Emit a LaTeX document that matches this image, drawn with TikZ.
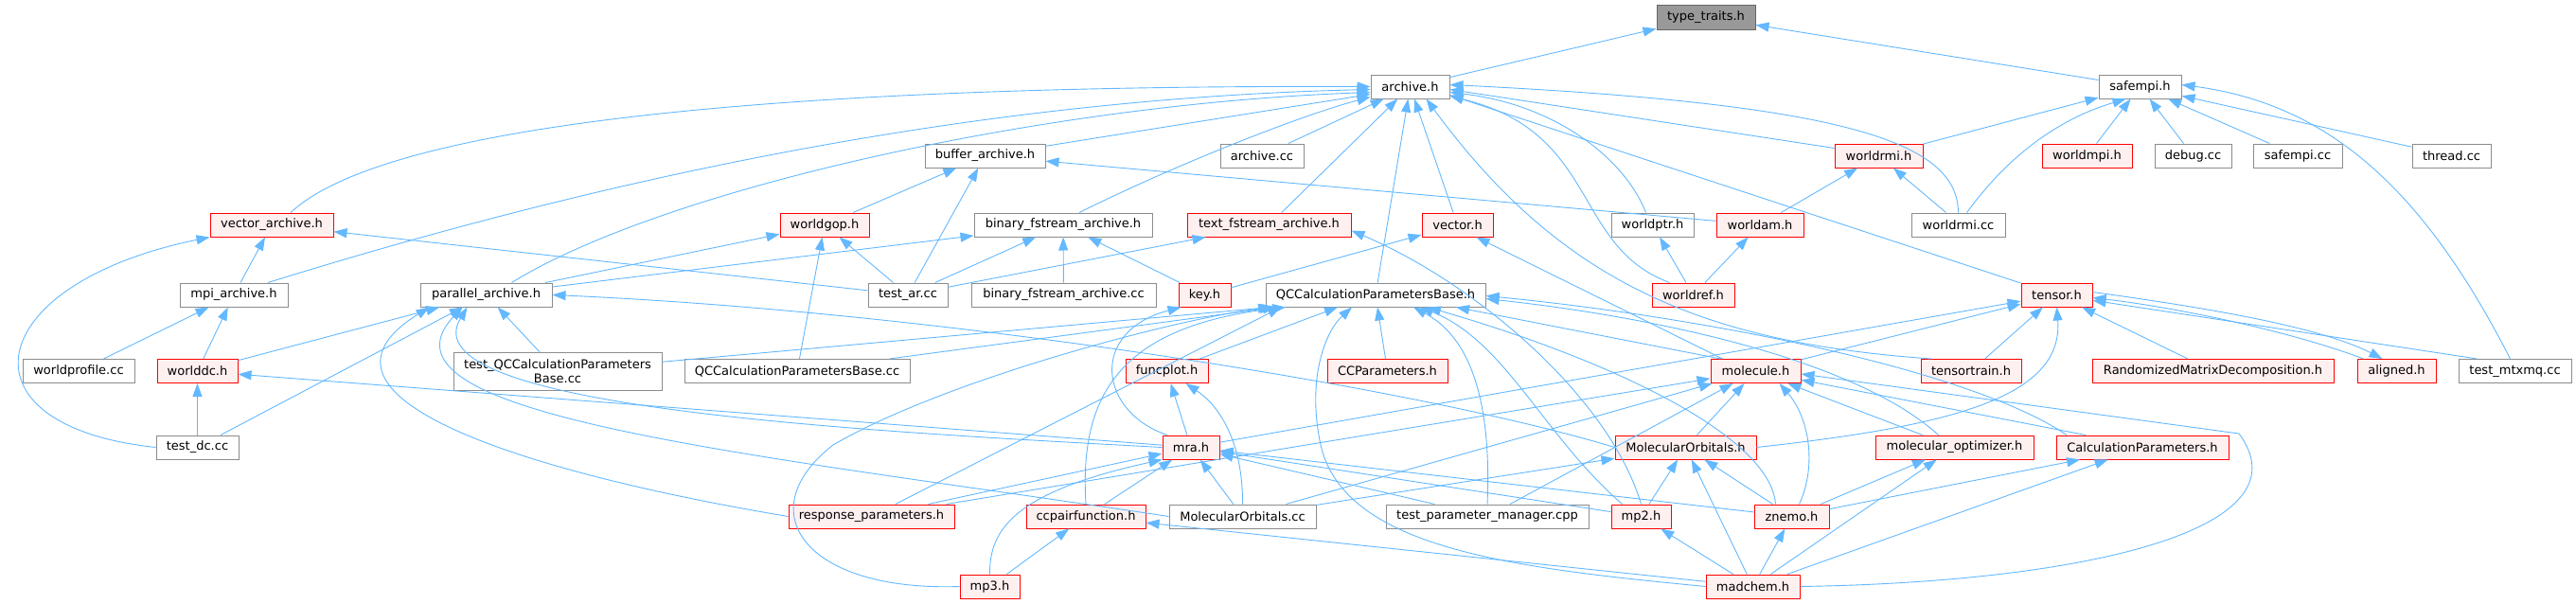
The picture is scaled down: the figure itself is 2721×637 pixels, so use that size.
\documentclass[tikz,border=0pt]{standalone}
\usepackage{fontspec}
\setmainfont{DejaVu Sans}
\usetikzlibrary{arrows.meta}
\definecolor{edgeblue}{HTML}{63B8FF}
\definecolor{boxgray}{HTML}{8C8C8C}
\definecolor{redfill}{HTML}{FFF0F0}
\definecolor{ttfill}{HTML}{999999}
\definecolor{ttborder}{HTML}{666666}
\begin{document}
\begin{tikzpicture}[x=1pt,y=-1pt,
  box/.style={draw=boxgray, fill=white, line width=1pt, minimum height=25pt, inner xsep=1pt, inner ysep=0pt, font=\fontsize{13}{15}\selectfont, text=black},
  redbox/.style={box, draw=red, fill=redfill},
  graybox/.style={box, draw=ttborder, fill=ttfill},
  edge/.style={draw=edgeblue, line width=0.9pt, -{Triangle[length=14pt,width=10pt]}}]
\useasboundingbox (0,0) rectangle (2721,637);
% row 0
\node[graybox, minimum width=104pt, minimum height=26pt] (tt) at (1802,18) {type\_traits.h};
% row 1
\node[box, minimum width=83pt] (archive) at (1489.5,91.5) {archive.h};
\node[box, minimum width=87pt] (safempi) at (2260.5,91.5) {safempi.h};
% row 2
\node[box, minimum width=127pt] (buffer) at (1040.5,164.5) {buffer\_archive.h};
\node[box, minimum width=88pt] (archcc) at (1333,164.5) {archive.cc};
\node[redbox, minimum width=93pt] (worldrmih) at (1984.5,164.5) {worldrmi.h};
\node[redbox, minimum width=95pt] (worldmpi) at (2204.5,164.5) {worldmpi.h};
\node[box, minimum width=81pt] (debug) at (2316.5,164.5) {debug.cc};
\node[box, minimum width=94pt] (safempicc) at (2427,164.5) {safempi.cc};
\node[box, minimum width=83pt] (thread) at (2589.5,164.5) {thread.cc};
% row 3
\node[redbox, minimum width=130pt] (vecar) at (287,237.5) {vector\_archive.h};
\node[redbox, minimum width=94pt] (worldgop) at (871,237.5) {worldgop.h};
\node[box, minimum width=188pt] (binfsh) at (1123,237.5) {binary\_fstream\_archive.h};
\node[redbox, minimum width=173pt] (textfs) at (1340.5,237.5) {text\_fstream\_archive.h};
\node[redbox, minimum width=75pt] (vectorh) at (1539.5,237.5) {vector.h};
\node[box, minimum width=87pt] (worldptr) at (1745.5,237.5) {worldptr.h};
\node[redbox, minimum width=92pt] (worldam) at (1859,237.5) {worldam.h};
\node[box, minimum width=99pt] (worldrmicc) at (2068.5,237.5) {worldrmi.cc};
% row 4
\node[box, minimum width=114pt] (mpiar) at (247,311.5) {mpi\_archive.h};
\node[box, minimum width=139pt] (parar) at (513.5,311.5) {parallel\_archive.h};
\node[box, minimum width=84pt] (testar) at (959,311.5) {test\_ar.cc};
\node[box, minimum width=195pt] (binfscc) at (1123.5,311.5) {binary\_fstream\_archive.cc};
\node[redbox, minimum width=55pt] (key) at (1272.5,311.5) {key.h};
\node[box, minimum width=232pt] (qcbase) at (1453,311.5) {QCCalculationParametersBase.h};
\node[redbox, minimum width=87pt] (worldref) at (1788.5,311.5) {worldref.h};
\node[redbox, minimum width=75pt] (tensor) at (2172.5,311.5) {tensor.h};
% row 5
\node[box, minimum width=118pt] (worldprof) at (83,392) {worldprofile.cc};
\node[redbox, minimum width=85pt] (worlddc) at (208.5,392) {worlddc.h};
\node[box, minimum width=220pt, minimum height=40pt, align=center] (testqc) at (589,392) {test\_QCCalculationParameters\\Base.cc};
\node[box, minimum width=238pt] (qcbasecc) at (842,392) {QCCalculationParametersBase.cc};
\node[redbox, minimum width=87pt] (funcplot) at (1232.5,392) {funcplot.h};
\node[redbox, minimum width=127pt] (ccparam) at (1465.5,392) {CCParameters.h};
\node[redbox, minimum width=95pt] (molecule) at (1854.5,392) {molecule.h};
\node[redbox, minimum width=106pt] (tensortrain) at (2082,392) {tensortrain.h};
\node[redbox, minimum width=255pt] (rmd) at (2337.5,392) {RandomizedMatrixDecomposition.h};
\node[redbox, minimum width=83pt] (aligned) at (2531.5,392) {aligned.h};
\node[box, minimum width=119pt] (testmtx) at (2656.5,392) {test\_mtxmq.cc};
% row 6
\node[box, minimum width=87pt] (testdc) at (208.5,472.5) {test\_dc.cc};
\node[redbox, minimum width=60pt] (mra) at (1258,472.5) {mra.h};
\node[redbox, minimum width=149pt] (moh) at (1780.5,472.5) {MolecularOrbitals.h};
\node[redbox, minimum width=167pt] (molopt) at (2064.5,472.5) {molecular\_optimizer.h};
\node[redbox, minimum width=182pt] (calcpar) at (2263,472.5) {CalculationParameters.h};
% row 7
\node[redbox, minimum width=175pt] (respar) at (920.5,545.5) {response\_parameters.h};
\node[redbox, minimum width=126pt] (ccpair) at (1147,545.5) {ccpairfunction.h};
\node[box, minimum width=155pt] (mocc) at (1312.5,545.5) {MolecularOrbitals.cc};
\node[box, minimum width=214pt] (testpm) at (1571,545.5) {test\_parameter\_manager.cpp};
\node[redbox, minimum width=63pt] (mp2) at (1733.5,545.5) {mp2.h};
\node[redbox, minimum width=79pt] (znemo) at (1892.5,545.5) {znemo.h};
% row 8
\node[redbox, minimum width=63pt] (mp3) at (1045.5,619.5) {mp3.h};
\node[redbox, minimum width=99pt] (madchem) at (1851.5,619.5) {madchem.h};

% ---- edges ----
\draw[edge] (archive) -- (tt);
\draw[edge] (safempi) -- (tt);
% archive.h
\draw[edge] ([xshift=20pt]vecar.north) .. controls (430,110) and (1000,90) .. (archive.west);
\draw[edge] ([xshift=36pt]mpiar.north) .. controls (600,200) and (1000,105) .. ([yshift=-3pt]archive.west);
\draw[edge] ([xshift=27pt]parar.north) .. controls (700,200) and (1100,110) .. ([yshift=-6pt]archive.west);
\draw[edge] (buffer) -- ([yshift=-8pt]archive.west);
\draw[edge] ([xshift=17pt]binfsh.north) .. controls (1250,170) and (1380,120) .. ([yshift=-11pt]archive.west);
\draw[edge] (archcc) -- (archive);
\draw[edge] (textfs) -- (archive);
\draw[edge] (qcbase) -- (archive);
\draw[edge] (vectorh) -- (archive);
\draw[edge] ([xshift=-7pt]worldptr.north) .. controls (1715,165) and (1640,110) .. ([yshift=-6pt]archive.east);
\draw[edge] ([xshift=-25pt]worldref.north) .. controls (1660,260) and (1690,140) .. ([yshift=-10pt]archive.east);
\draw[edge] ([yshift=8pt]worldrmih.west) -- ([yshift=-3pt]archive.east);
\draw[edge] (worldrmicc.north) .. controls (2068,150) and (1950,110) .. ([yshift=2pt]archive.east);
\draw[edge] (tensor) -- ([yshift=-9pt]archive.east);
\draw[edge] ([xshift=-42pt]tensortrain.north) .. controls (1800,362) and (1650,300) .. ([xshift=17pt]archive.south);
% safempi.h
\draw[edge] (worldrmih) -- (safempi);
\draw[edge] ([xshift=9pt]worldrmicc.north) .. controls (2110,180) and (2160,130) .. ([xshift=-15pt]safempi.south);
\draw[edge] (worldmpi) -- (safempi);
\draw[edge] (debug) -- (safempi);
\draw[edge] (safempicc) -- (safempi);
\draw[edge] (thread) -- (safempi);
\draw[edge] ([xshift=-5pt]testmtx.north) .. controls (2560,200) and (2460,110) .. ([yshift=2pt]safempi.east);
% worldrmi.h, worldam.h, worldptr.h
\draw[edge] (worldam) -- (worldrmih);
\draw[edge] ([xshift=-13pt]worldrmicc.north) -- (worldrmih);
\draw[edge] (worldref) -- (worldam);
\draw[edge] (worldam) -- (buffer);
\draw[edge] (worldref) -- (worldptr);
% buffer_archive.h
\draw[edge] (worldgop) -- (buffer);
\draw[edge] (testar) -- (buffer);
% worldgop.h
\draw[edge] (parar) -- (worldgop);
\draw[edge] (testar) -- (worldgop);
\draw[edge] (qcbasecc) -- (worldgop);
% vector_archive.h
\draw[edge] (mpiar) -- (vecar);
\draw[edge] (testar) -- (vecar);
\draw[edge] (testdc.west) .. controls (-50,450) and (-20,300) .. (vecar.south west);
% mpi_archive.h
\draw[edge] (worldprof) -- (mpiar);
\draw[edge] (worlddc) -- (mpiar);
% worlddc.h
\draw[edge] (testdc) -- (worlddc);
\draw[edge] (mra) -- (worlddc);
% parallel_archive.h
\draw[edge] (worlddc) -- (parar);
\draw[edge] (testdc) -- (parar);
\draw[edge] (testqc) -- (parar);
\draw[edge] (mra.west) .. controls (900,455) and (430,430) .. ([xshift=-20pt]parar.south);
\draw[edge] (mocc.west) .. controls (800,480) and (380,440) .. ([xshift=-25pt]parar.south);
\draw[edge] (respar.west) .. controls (560,500) and (300,420) .. ([xshift=-60pt]parar.south);
\draw[edge] (moh.west) .. controls (1500,410) and (1000,330) .. (parar.east);
% binary_fstream_archive.h
\draw[edge] (parar) -- (binfsh);
\draw[edge] (testar) -- (binfsh);
\draw[edge] (binfscc) -- (binfsh);
\draw[edge] (key) -- (binfsh);
% text_fstream_archive.h
\draw[edge] (testar) -- (textfs);
\draw[edge] (mp2.north) .. controls (1700,420) and (1560,300) .. ([yshift=-6pt]textfs.east);
% vector.h
\draw[edge] (key) -- (vectorh);
\draw[edge] ([xshift=-35pt]molecule.north) -- ([xshift=20pt]vectorh.south);
% key.h
\draw[edge] ([xshift=-25pt]mra.north) .. controls (1160,435) and (1150,350) .. ([xshift=-25pt]key.south);
% QCCalculationParametersBase.h
\draw[edge] (qcbasecc) -- ([xshift=-105pt]qcbase.south);
\draw[edge] (testqc) -- ([xshift=-110pt]qcbase.south);
\draw[edge] (respar) -- ([xshift=-100pt]qcbase.south);
\draw[edge] (ccpair.north) .. controls (1140,420) and (1180,345) .. ([xshift=-95pt]qcbase.south);
\draw[edge] (funcplot) -- ([xshift=-40pt]qcbase.south);
\draw[edge] (mp3.west) .. controls (850,625) and (790,540) .. (880,470) .. controls (1000,400) and (1250,335) .. ([xshift=-108pt]qcbase.south);
\draw[edge] (ccparam) -- (qcbase);
\draw[edge] (testpm.north) .. controls (1575,440) and (1560,360) .. ([xshift=40pt]qcbase.south);
\draw[edge] ([xshift=-20pt]mp2.north) .. controls (1630,460) and (1590,360) .. ([xshift=47pt]qcbase.south);
\draw[edge] (madchem.west) .. controls (1600,600) and (1420,580) .. (1395,470) .. controls (1380,400) and (1400,350) .. ([xshift=-25pt]qcbase.south);
\draw[edge] ([xshift=-37pt]molecule.north) -- ([xshift=85pt]qcbase.south);
\draw[edge] ([xshift=-17pt]molopt.north) .. controls (1960,380) and (1750,335) .. ([yshift=-4pt]qcbase.east);
\draw[edge] ([xshift=-80pt]calcpar.north) .. controls (2080,390) and (1800,335) .. ([yshift=-1pt]qcbase.east);
\draw[edge] ([xshift=-17pt]znemo.north) .. controls (1870,460) and (1700,380) .. ([xshift=55pt]qcbase.south);
% funcplot.h
\draw[edge] (mra) -- (funcplot);
\draw[edge] (mocc.north) .. controls (1313,470) and (1290,430) .. ([xshift=20pt]funcplot.south);
% mra.h
\draw[edge] (respar) -- (mra);
\draw[edge] (ccpair) -- (mra);
\draw[edge] (mp3.north) .. controls (1045,560) and (1070,520) .. (mra.south west);
\draw[edge] (mocc) -- (mra);
\draw[edge] (mp2) -- (mra);
\draw[edge] (znemo) -- (mra);
\draw[edge] (testpm) -- (mra);
% ccpairfunction.h
\draw[edge] (mp3) -- (ccpair);
\draw[edge] (madchem) -- (ccpair);
% tensor.h
\draw[edge] (molecule) -- (tensor);
\draw[edge] (tensortrain) -- (tensor);
\draw[edge] (rmd) -- (tensor);
\draw[edge] ([xshift=-35pt]aligned.north) .. controls (2420,350) and (2300,325) .. ([yshift=-3pt]tensor.east);
\draw[edge] ([yshift=3pt]tensor.east) .. controls (2330,325) and (2450,345) .. ([xshift=-15pt]aligned.north);
\draw[edge] ([xshift=-40pt]testmtx.north) -- (tensor);
\draw[edge] (mra) -- (tensor);
\draw[edge] (moh.east) .. controls (2060,450) and (2180,420) .. (tensor.south);
% molecule.h
\draw[edge] (moh) -- (molecule);
\draw[edge] ([xshift=8pt]znemo.north) .. controls (1920,490) and (1910,440) .. ([xshift=25pt]molecule.south);
\draw[edge] (molopt) -- (molecule);
\draw[edge] ([xshift=-60pt]calcpar.north) -- (molecule);
\draw[edge] (madchem.east) .. controls (2200,615) and (2440,560) .. (2365,458) -- ([yshift=-3pt]molecule.east);
\draw[edge] (mocc) -- (molecule);
\draw[edge] (testpm) -- (molecule);
\draw[edge] (respar) -- (molecule);
% MolecularOrbitals.h
\draw[edge] (mocc) -- (moh);
\draw[edge] (mp2) -- (moh);
\draw[edge] (znemo) -- (moh);
\draw[edge] (madchem) -- (moh);
% molecular_optimizer.h, CalculationParameters.h
\draw[edge] (znemo) -- (molopt);
\draw[edge] (madchem) -- (molopt);
\draw[edge] (znemo) -- (calcpar);
\draw[edge] (madchem) -- (calcpar);
% znemo.h, mp2.h
\draw[edge] (madchem) -- (znemo);
\draw[edge] (madchem) -- (mp2);
\end{tikzpicture}
\end{document}
